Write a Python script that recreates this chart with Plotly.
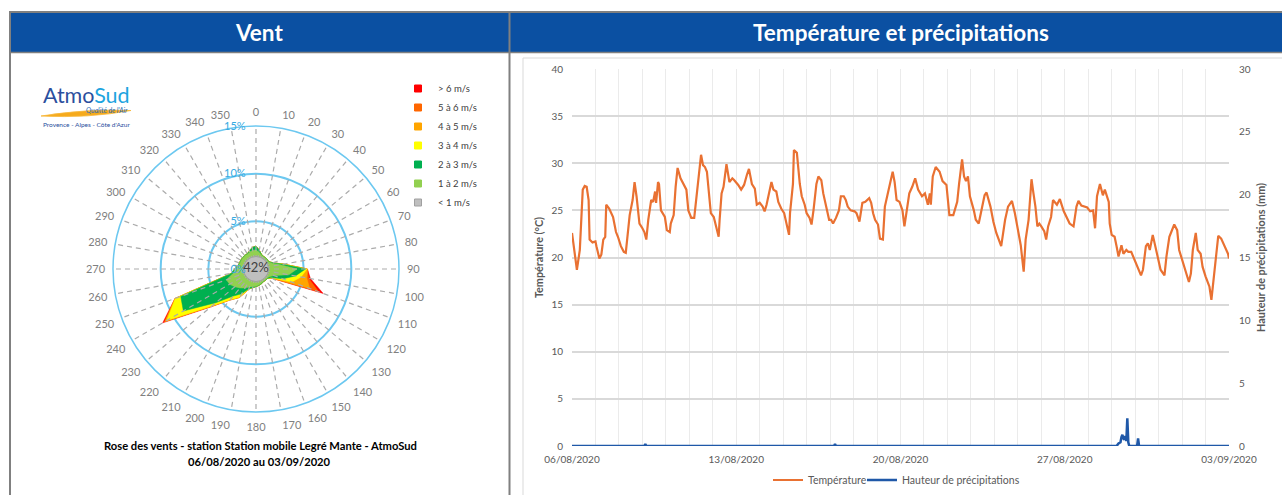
import numpy as np
import pandas as pd
import plotly.graph_objects as go

W, H = 1282, 495
def px(x): return x / W
def py(y): return 1 - y / H

# ------------------------------------------------------------------ data
start = pd.Timestamp("2020-08-06 00:00")
x_tick_labels = ["06/08/2020", "13/08/2020", "20/08/2020", "27/08/2020", "03/09/2020"]
x_tick_days = [0, 7, 14, 21, 28]

temp_hours = [0, 2, 5, 8, 10, 11, 13, 15, 17, 18, 21, 24, 25, 28, 30, 32, 34, 35, 38, 42,
              45, 47, 50, 53, 55, 57, 59, 62, 64, 66, 69, 72, 74, 76, 78, 81, 83, 85, 86, 88,
              89, 91, 95, 97, 100, 101, 104, 106, 108, 111, 113, 117, 119, 122, 125, 127, 130, 132, 134, 136,
              138, 140, 142, 145, 147, 150, 151, 153, 155, 157, 158, 161, 164, 166, 170, 173, 176, 179, 181, 184,
              187, 189, 192, 195, 197, 199, 202, 204, 206, 209, 211, 214, 217, 219, 222, 223, 226, 227, 230, 233,
              235, 238, 240, 243, 245, 247, 250, 252, 255, 257, 260, 263, 265, 267, 270, 273, 275, 278, 280, 282,
              285, 289, 291, 294, 297, 300, 304, 306, 308, 310, 313, 315, 318, 320, 323, 325, 328, 330, 332, 335,
              338, 340, 345, 348, 351, 354, 358, 361, 364, 366, 367, 369, 372, 376, 379, 383, 386, 390, 394, 396,
              399, 401, 403, 405, 407, 411, 413, 416, 419, 422, 424, 428, 431, 434, 439, 443, 446, 450, 453, 457,
              459, 462, 464, 467, 470, 472, 474, 476, 478, 480, 483, 485, 487, 490, 492, 496, 499, 503, 506, 509,
              513, 516, 518, 521, 527, 530, 533, 535, 537, 540, 543, 545, 549, 550, 552, 555, 557, 559, 562, 564,
              567, 569, 572, 574, 577, 582, 584, 587, 589, 591, 594, 597, 599, 602, 606, 608, 611, 616, 619, 621,
              625, 628, 631, 633, 635, 638, 640, 643, 645, 648, 652, 654, 656, 659, 661, 664, 667, 671, 672]
temp_values = [22.6, 21.2, 18.7, 20.8, 24.3, 27.2, 27.6, 27.5, 26.1, 21.9, 21.6, 21.7, 21.2, 19.9, 20.3, 21.9, 22.2, 25.6, 25.2, 24.3,
               22.7, 22.2, 21.2, 20.6, 20.5, 22.2, 24.5, 26.1, 28.0, 26.5, 23.6, 23.1, 22.7, 21.9, 24.0, 26.1, 25.9, 27.0, 25.8, 28.0,
               27.8, 25.0, 24.3, 22.9, 22.7, 23.6, 24.5, 27.5, 29.5, 28.4, 28.0, 27.2, 25.0, 24.2, 24.2, 26.1, 29.3, 30.9, 29.8, 29.6,
               29.1, 26.8, 24.7, 24.3, 23.5, 22.2, 24.0, 26.8, 27.5, 29.6, 29.9, 28.0, 28.4, 28.2, 27.7, 27.2, 27.7, 28.8, 29.4, 27.8,
               27.3, 25.6, 25.8, 25.4, 24.9, 25.6, 27.2, 28.0, 27.2, 27.0, 25.9, 25.2, 24.7, 23.8, 22.4, 24.7, 27.8, 31.4, 31.1, 27.8,
               26.5, 25.6, 24.7, 24.2, 23.5, 25.0, 27.8, 28.6, 28.2, 26.8, 25.4, 24.0, 24.0, 23.6, 24.2, 25.0, 26.5, 26.5, 26.1, 25.4,
               25.0, 24.9, 24.7, 23.8, 25.8, 25.9, 26.3, 25.8, 24.7, 24.0, 23.5, 22.0, 21.9, 25.4, 26.8, 27.8, 29.1, 28.0, 26.1, 25.9,
               25.0, 23.3, 26.8, 27.5, 28.4, 27.2, 26.5, 26.8, 25.6, 26.8, 25.6, 28.6, 29.6, 29.1, 28.1, 27.7, 24.5, 24.5, 25.9, 27.9,
               30.4, 28.6, 28.1, 28.6, 26.5, 25.0, 24.0, 23.6, 25.0, 26.6, 26.9, 25.4, 23.8, 22.6, 21.2, 24.0, 25.4, 26.0, 24.7, 22.4,
               21.3, 18.5, 21.9, 24.0, 28.3, 26.8, 25.4, 23.3, 23.6, 23.3, 22.8, 21.9, 23.3, 24.3, 26.1, 25.6, 26.2, 24.9, 24.3, 23.6,
               23.3, 25.4, 26.0, 25.5, 25.3, 24.9, 25.0, 23.1, 26.5, 27.8, 26.6, 27.2, 25.9, 23.6, 22.4, 22.2, 21.2, 20.1, 21.3, 20.4,
               20.8, 20.6, 20.6, 20.1, 19.4, 18.1, 18.7, 21.2, 21.5, 20.8, 22.4, 21.2, 20.1, 18.7, 18.1, 20.1, 22.2, 23.5, 22.9, 20.8,
               19.4, 18.3, 17.4, 18.3, 20.8, 22.6, 20.8, 20.4, 19.0, 18.0, 16.9, 15.5, 17.6, 20.1, 22.3, 22.0, 21.3, 20.4, 19.9]

precip_hours = [0, 74, 75, 76, 268, 269, 270, 557, 559, 561, 562, 563, 564, 565, 566, 567, 568, 569, 570, 578, 579, 580, 672]
precip_values = [0, 0, 0.15, 0, 0, 0.15, 0, 0, 0.2, 0.3, 0.7, 0.9, 0.6, 0.5, 0.8, 0.4, 2.2, 0.3, 0, 0, 0.6, 0, 0]

# wind rose: % of time per direction and speed class
directions = list(range(0, 360, 10))
speed_labels = ["> 6 m/s", "5 à 6 m/s", "4 à 5 m/s", "3 à 4 m/s", "2 à 3 m/s", "1 à 2 m/s", "< 1 m/s"]
speed_colors = ["#FF0000", "#FF6600", "#FFA500", "#FFFF00", "#00B050", "#92D050", "#BFBFBF"]
#             0    10   20   30   40   50   60   70   80   90   100  110  120  130  140  150  160  170
freq_1_2 = [2.0, 1.8, 1.6, 1.5, 1.5, 1.5, 1.5, 1.8, 2.6, 4.3, 3.5, 2.0, 1.6, 1.5, 1.5, 1.5, 1.6, 1.7,
            1.8, 1.9, 2.0, 2.3, 2.6, 2.9, 3.2, 3.3, 2.4, 2.2, 1.9, 1.8, 1.8, 1.8, 1.8, 1.8, 1.9, 2.0]
freq_2_3 = [0.4, 0.2, 0.05, 0.05, 0.05, 0.05, 0.05, 0.1, 0.3, 0.9, 0.7, 1.0, 0.2, 0.05, 0.05, 0.05, 0.05, 0.05,
            0.05, 0.1, 0.2, 0.7, 1.1, 2.6, 5.6, 5.1, 0.2, 0.05, 0.05, 0.05, 0.05, 0.05, 0.05, 0.05, 0.1, 0.3]
freq_3_4 = [0, 0, 0, 0, 0, 0, 0, 0, 0.05, 0.15, 0.6, 1.0, 0.1, 0, 0, 0, 0, 0,
            0, 0, 0.05, 0.4, 0.5, 0.5, 2.0, 0.6, 0, 0, 0, 0, 0, 0, 0, 0, 0, 0]
freq_4_5 = [0, 0, 0, 0, 0, 0, 0, 0, 0, 0.05, 0.6, 2.0, 0.05, 0, 0, 0, 0, 0,
            0, 0, 0, 0.05, 0.05, 0.1, 0.2, 0.05, 0, 0, 0, 0, 0, 0, 0, 0, 0, 0]
freq_5_6 = [0, 0, 0, 0, 0, 0, 0, 0, 0, 0, 0.2, 1.0, 0, 0, 0, 0, 0, 0,
            0, 0, 0, 0, 0, 0, 0.1, 0, 0, 0, 0, 0, 0, 0, 0, 0, 0, 0]
freq_gt6 = [0, 0, 0, 0, 0, 0, 0, 0, 0, 0, 0.2, 0.5, 0.05, 0, 0, 0, 0, 0,
            0, 0, 0, 0, 0, 0.1, 0.2, 0, 0, 0, 0, 0, 0, 0, 0, 0, 0, 0]
calm_pct = 42
radial_ticks = [0, 5, 10, 15]
radial_tick_labels = ["0%", "5%", "10%", "15%"]

# ------------------------------------------------------------------ figure
fig = go.Figure()

t_x = start + pd.to_timedelta(temp_hours, unit="h")
p_x = start + pd.to_timedelta(precip_hours, unit="h")
fig.add_trace(go.Scatter(x=t_x, y=temp_values, name="Température", mode="lines",
                         line=dict(color="#E97132", width=2.2), xaxis="x", yaxis="y", legend="legend"))
fig.add_trace(go.Scatter(x=p_x, y=precip_values, name="Hauteur de précipitations", mode="lines",
                         line=dict(color="#1F58A8", width=2.5), xaxis="x", yaxis="y2", legend="legend3"))

# wind rose cumulative layers (outermost first)
stack = np.cumsum(np.array([freq_1_2, freq_2_3, freq_3_4, freq_4_5, freq_5_6, freq_gt6]), axis=0)
theta_closed = directions + [directions[0]]
for i in range(5, -1, -1):
    r = list(stack[i]) + [stack[i][0]]
    name = speed_labels[5 - i]
    col = speed_colors[5 - i]
    fig.add_trace(go.Scatterpolar(r=r, theta=theta_closed, mode="lines", fill="toself",
                                  fillcolor=col, line=dict(color=col, width=0.5),
                                  showlegend=False, legendgroup=name, hoverinfo="skip",
                                  subplot="polar"))

# dashed spokes over the fills
sr, st = [], []
for d in directions:
    sr += [0, radial_ticks[-1], None]
    st += [d, d, None]
fig.add_trace(go.Scatterpolar(r=sr, theta=st, mode="lines",
                              line=dict(color="#ABABAB", width=1.2, dash="5px,4px"),
                              showlegend=False, hoverinfo="skip", subplot="polar"))

# calm disc
fig.add_trace(go.Scatterpolar(r=[0], theta=[0], mode="markers+text", text=[f"{calm_pct}%"],
                              textposition="middle center",
                              textfont=dict(size=13, color="#404040", family="Lato"),
                              marker=dict(size=25, color="#BFBFBF", line=dict(color="#A0A0A0", width=1)),
                              showlegend=False, hoverinfo="skip", subplot="polar"))

# legend entries for the rose
for name, col in zip(speed_labels, speed_colors):
    fig.add_trace(go.Scatterpolar(r=[None], theta=[None], mode="markers", name=name,
                                  marker=dict(symbol="square", size=7, color=col,
                                              line=dict(color="#A0A0A0" if name == "< 1 m/s" else col, width=1)),
                                  legendgroup=name, legend="legend2", subplot="polar"))

# ------------------------------------------------------------------ layout
grey_txt = "#595959"
tickvals = [start + pd.Timedelta(days=d) for d in x_tick_days]
blue_band = "#0B50A2"

shapes = [
    dict(type="rect", xref="paper", yref="paper", x0=px(10), x1=px(509), y0=py(52), y1=py(12),
         fillcolor=blue_band, line=dict(width=0), layer="below"),
    dict(type="rect", xref="paper", yref="paper", x0=px(510), x1=px(1290), y0=py(52), y1=py(12),
         fillcolor=blue_band, line=dict(width=0), layer="below"),
    dict(type="line", xref="paper", yref="paper", x0=px(9), x1=px(1290), y0=py(12), y1=py(12),
         line=dict(color="#808080", width=2)),
    dict(type="line", xref="paper", yref="paper", x0=px(9), x1=px(1290), y0=py(52.5), y1=py(52.5),
         line=dict(color="#808080", width=1.5)),
    dict(type="line", xref="paper", yref="paper", x0=px(10), x1=px(10), y0=py(11), y1=py(500),
         line=dict(color="#808080", width=2)),
    dict(type="line", xref="paper", yref="paper", x0=px(509.5), x1=px(509.5), y0=py(11), y1=py(500),
         line=dict(color="#808080", width=2)),
    dict(type="rect", xref="paper", yref="paper", x0=px(523), x1=px(1295), y0=py(505), y1=py(58),
         line=dict(color="#D9D9D9", width=1), layer="below"),
    dict(type="path", xref="paper", yref="paper",
         path=f"M {px(41)},{py(116)} Q {px(88)},{py(108.5)} {px(131)},{py(110.5)} "
              f"Q {px(88)},{py(118.5)} {px(41)},{py(116)} Z",
         fillcolor="#F6AA1C", line=dict(color="#F8B83A", width=0.8)),
]

def ann(text, x, y, size, color, xanchor="center", **kw):
    return dict(text=text, x=px(x), y=py(y), xref="paper", yref="paper", showarrow=False,
                xanchor=xanchor, yanchor="middle", font=dict(size=size, color=color, family="Lato"), **kw)

annotations = [
    ann("<b>Vent</b>", 259, 33, 22.5, "white"),
    ann("<b>Température et précipitations</b>", 901, 33, 22.5, "white"),
    ann("<span style='color:#2B4F9E'>Atmo</span><span style='color:#1DA4DF'>Sud</span>", 86, 95, 21.5, "#2B4F9E"),
    ann("<i>Qualité de l'Air</i>", 130, 110, 6.8, "#2B6CB8", xanchor="right"),
    ann("Provence - Alpes - Côte d'Azur", 86, 124.5, 6.5, "#2B4F9E"),
    ann("<b>Rose des vents - station Station mobile Legré Mante - AtmoSud</b>", 260, 445, 11.2, "#000000"),
    ann("<b>06/08/2020 au 03/09/2020</b>", 259, 461.5, 11.2, "#000000"),
]

fig.update_layout(
    width=W, height=H, margin=dict(l=0, r=0, t=0, b=0, pad=0, autoexpand=False),
    paper_bgcolor="white", plot_bgcolor="white",
    font=dict(family="Lato", color=grey_txt),
    showlegend=True,
    xaxis=dict(domain=[px(572), px(1229)], type="date",
               range=[start, start + pd.Timedelta(days=28)],
               tickmode="array", tickvals=tickvals, ticktext=x_tick_labels,
               showgrid=True, gridcolor="#EBEBEB", gridwidth=1,
               minor=dict(tickmode="linear", tick0=start, dtick=86400000, showgrid=True,
                          gridcolor="#EBEBEB", gridwidth=1),
               ticks="", showline=False, zeroline=False, ticklabelstandoff=6,
               tickfont=dict(size=10, color=grey_txt), anchor="y"),
    yaxis=dict(domain=[py(446), py(69)], range=[0, 40], dtick=5,
               gridcolor="#D9D9D9", gridwidth=1.5, zeroline=False, ticks="", ticklabelstandoff=8,
               tickfont=dict(size=10, color=grey_txt),
               title=dict(text="<b>Température (°C)</b>", font=dict(size=10.8, color=grey_txt), standoff=5),
               anchor="x"),
    yaxis2=dict(overlaying="y", side="right", range=[0, 30], dtick=5, showgrid=False, zeroline=False,
                ticks="", tickfont=dict(size=10, color=grey_txt), ticklabelstandoff=9,
                title=dict(text="<b>Hauteur de précipitations (mm)</b>", font=dict(size=10.8, color=grey_txt),
                           standoff=7),
                anchor="x"),
    polar=dict(domain=dict(x=[px(113), px(399)], y=[py(412), py(126)]), bgcolor="white",
               angularaxis=dict(rotation=90, direction="clockwise", tickmode="array",
                                tickvals=directions, ticktext=[str(d) for d in directions],
                                showgrid=False, linecolor="#6CC8F0", linewidth=1.5,
                                ticks="outside", ticklen=5, tickcolor="rgba(0,0,0,0)",
                                tickfont=dict(size=11, color="#808080")),
               radialaxis=dict(range=[0, 15], tickmode="array", tickvals=radial_ticks,
                               ticktext=radial_tick_labels, angle=90, side="counterclockwise",
                               showline=False, gridcolor="#6CC8F0", gridwidth=1.5,
                               ticks="outside", ticklen=6, tickcolor="rgba(0,0,0,0)",
                               tickangle=90, tickfont=dict(size=11, color="#35A9E1"))),
    legend=dict(x=px(768), xanchor="left", y=py(480), yanchor="middle",
                font=dict(size=10.5, color=grey_txt), bgcolor="rgba(0,0,0,0)"),
    legend3=dict(x=px(862), xanchor="left", y=py(480), yanchor="middle",
                 font=dict(size=10.5, color=grey_txt), bgcolor="rgba(0,0,0,0)"),
    legend2=dict(x=px(398), y=py(74), xanchor="left", yanchor="top",
                 font=dict(size=9.5, color="#404040"), bgcolor="rgba(0,0,0,0)", tracegroupgap=0),
    shapes=shapes, annotations=annotations, hovermode=False,
)

fig.write_html("out.html", config={"displayModeBar": False},
               post_script="document.body.style.margin='0px';")
